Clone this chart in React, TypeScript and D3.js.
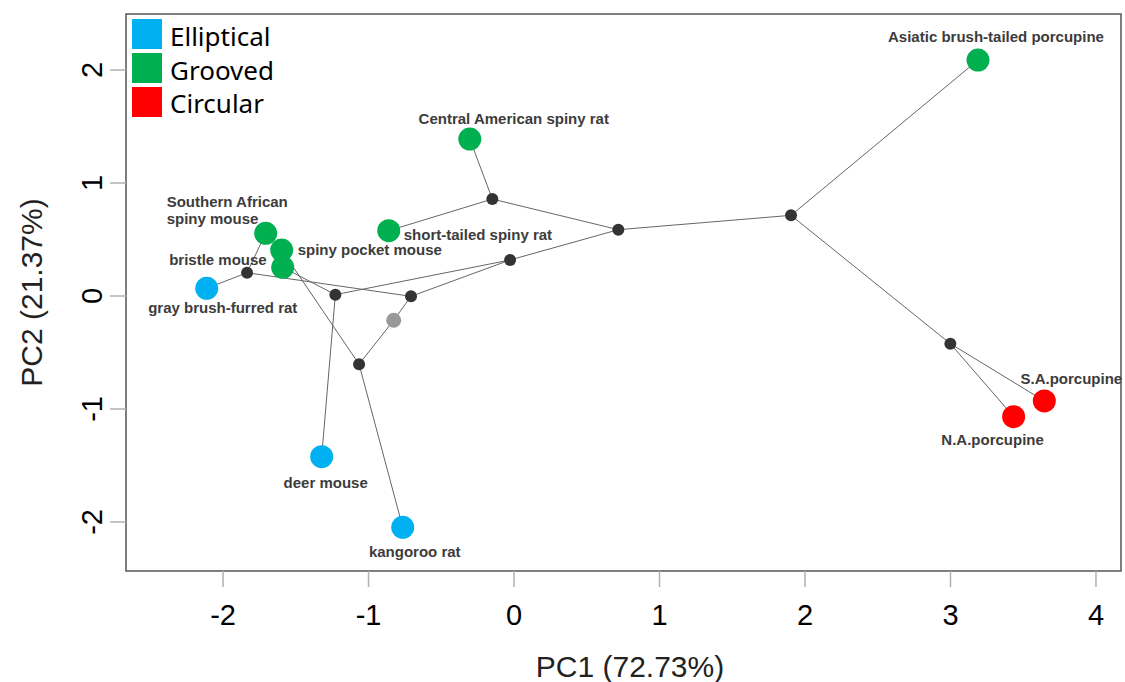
import React, { useEffect, useRef } from "react";
import * as d3 from "d3";

// Tips of the tree (species), PC1 / PC2 scores
const tipNames = [
  "Asiatic brush-tailed porcupine",
  "Central American spiny rat",
  "short-tailed spiny rat",
  "Southern African spiny mouse",
  "spiny pocket mouse",
  "bristle mouse",
  "gray brush-furred rat",
  "deer mouse",
  "kangoroo rat",
  "N.A.porcupine",
  "S.A.porcupine",
];
const tipPC1 = [3.189, -0.304, -0.861, -1.707, -1.597, -1.59, -2.112, -1.322, -0.765, 3.434, 3.645];
const tipPC2 = [2.088, 1.389, 0.578, 0.555, 0.407, 0.254, 0.068, -1.422, -2.047, -1.068, -0.929];
const tipGroup = [
  "Grooved", "Grooved", "Grooved", "Grooved", "Grooved", "Grooved",
  "Elliptical", "Elliptical", "Elliptical", "Circular", "Circular",
];

// Internal (ancestral) nodes
const nodeNames = ["n1", "n2", "n3", "root", "n4", "n5", "n6", "n7", "n8", "n9"];
const nodePC1 = [-1.835, -1.228, -0.708, -0.827, -1.065, -0.027, -0.149, 0.717, 1.904, 2.999];
const nodePC2 = [0.206, 0.012, -0.003, -0.215, -0.604, 0.319, 0.858, 0.587, 0.714, -0.422];

// Branches: [from, to]
const edges = [
  ["gray brush-furred rat", "n1"],
  ["Southern African spiny mouse", "n1"],
  ["n1", "n3"],
  ["bristle mouse", "n2"],
  ["deer mouse", "n2"],
  ["n2", "n5"],
  ["n3", "n5"],
  ["n3", "root"],
  ["root", "n4"],
  ["spiny pocket mouse", "n4"],
  ["kangoroo rat", "n4"],
  ["n5", "n7"],
  ["short-tailed spiny rat", "n6"],
  ["Central American spiny rat", "n6"],
  ["n6", "n7"],
  ["n7", "n8"],
  ["n8", "Asiatic brush-tailed porcupine"],
  ["n8", "n9"],
  ["n9", "N.A.porcupine"],
  ["n9", "S.A.porcupine"],
];

const groups = ["Elliptical", "Grooved", "Circular"];
const groupColors = ["#00b0f0", "#00b050", "#ff0000"];

const xTicks = [-2, -1, 0, 1, 2, 3, 4];
const yTicks = [-2, -1, 0, 1, 2];

// label placement relative to the point: [dx, dy, anchor, lines]
const labelLayout = {
  "Asiatic brush-tailed porcupine": [18, -18, "middle"],
  "Central American spiny rat": [44, -15, "middle"],
  "short-tailed spiny rat": [15, 9, "start"],
  "Southern African spiny mouse": [-99, -26, "start"],
  "spiny pocket mouse": [16, 5, "start"],
  "bristle mouse": [-16, -2, "end"],
  "gray brush-furred rat": [16, 25, "middle"],
  "deer mouse": [4, 31, "middle"],
  "kangoroo rat": [12, 30, "middle"],
  "N.A.porcupine": [-21, 28, "middle"],
  "S.A.porcupine": [27, -17, "middle"],
};

const App = () => {
  const ref = useRef<SVGSVGElement>(null);

  useEffect(() => {
    const svg = d3.select(ref.current);
    svg.selectAll("*").remove();

    const left = 126, right = 1121, top = 14, bottom = 571;

    const x = d3.scaleLinear().domain([-2.667, 4.172]).range([left, right]);
    const y = d3.scaleLinear().domain([-2.434, 2.496]).range([bottom, top]);

    // lookup of positions
    const pos = new Map<string, [number, number]>();
    tipNames.forEach((n, i) => pos.set(n, [tipPC1[i], tipPC2[i]]));
    nodeNames.forEach((n, i) => pos.set(n, [nodePC1[i], nodePC2[i]]));

    const color = d3.scaleOrdinal<string, string>().domain(groups).range(groupColors);

    // Frame
    svg.append("rect")
      .attr("x", left)
      .attr("y", top)
      .attr("width", right - left)
      .attr("height", bottom - top)
      .attr("fill", "none")
      .attr("stroke", "#555")
      .attr("stroke-width", 1.5);

    // X axis ticks + labels
    const xg = svg.append("g");
    xg.selectAll("line")
      .data(xTicks)
      .enter()
      .append("line")
      .attr("x1", d => x(d))
      .attr("x2", d => x(d))
      .attr("y1", bottom)
      .attr("y2", bottom + 16)
      .attr("stroke", "#b0b0b0")
      .attr("stroke-width", 1.5);
    xg.selectAll("text")
      .data(xTicks)
      .enter()
      .append("text")
      .attr("x", d => x(d))
      .attr("y", 625)
      .attr("text-anchor", "middle")
      .style("font-family", "'Liberation Sans', Arial, sans-serif")
      .style("font-size", "29px")
      .attr("fill", "#000")
      .text(d => d);

    // Y axis ticks + labels
    const yg = svg.append("g");
    yg.selectAll("line")
      .data(yTicks)
      .enter()
      .append("line")
      .attr("x1", left - 16)
      .attr("x2", left)
      .attr("y1", d => y(d))
      .attr("y2", d => y(d))
      .attr("stroke", "#b0b0b0")
      .attr("stroke-width", 1.5);
    yg.selectAll("text")
      .data(yTicks)
      .enter()
      .append("text")
      .attr("transform", d => `translate(102, ${y(d)}) rotate(-90)`)
      .attr("text-anchor", "middle")
      .style("font-family", "'Liberation Sans', Arial, sans-serif")
      .style("font-size", "29px")
      .attr("fill", "#000")
      .text(d => d);

    // Axis titles
    svg.append("text")
      .attr("x", 630)
      .attr("y", 677)
      .attr("text-anchor", "middle")
      .style("font-family", "'Liberation Sans', Arial, sans-serif")
      .style("font-size", "30px")
      .attr("fill", "#222")
      .text("PC1 (72.73%)");
    svg.append("text")
      .attr("transform", `translate(42, ${(top + bottom) / 2}) rotate(-90)`)
      .attr("text-anchor", "middle")
      .style("font-family", "'Liberation Sans', Arial, sans-serif")
      .style("font-size", "30px")
      .attr("fill", "#222")
      .text("PC2 (21.37%)");

    // Branches
    svg.append("g")
      .selectAll("line")
      .data(edges)
      .enter()
      .append("line")
      .attr("x1", d => x(pos.get(d[0])![0]))
      .attr("y1", d => y(pos.get(d[0])![1]))
      .attr("x2", d => x(pos.get(d[1])![0]))
      .attr("y2", d => y(pos.get(d[1])![1]))
      .attr("stroke", "#666")
      .attr("stroke-width", 1);

    // Internal nodes
    svg.append("g")
      .selectAll("circle")
      .data(nodeNames)
      .enter()
      .append("circle")
      .attr("cx", (d, i) => x(nodePC1[i]))
      .attr("cy", (d, i) => y(nodePC2[i]))
      .attr("r", d => (d === "root" ? 7.5 : 6))
      .attr("fill", d => (d === "root" ? "#999" : "#333"));

    // Tips
    svg.append("g")
      .selectAll("circle")
      .data(tipNames)
      .enter()
      .append("circle")
      .attr("cx", (d, i) => x(tipPC1[i]))
      .attr("cy", (d, i) => y(tipPC2[i]))
      .attr("r", 11.5)
      .attr("fill", (d, i) => color(tipGroup[i]));

    // Tip labels
    const lab = svg.append("g")
      .style("font-family", "'Liberation Sans', Arial, sans-serif")
      .style("font-size", "15px")
      .style("font-weight", "bold")
      .attr("fill", "#3c3c3c");
    tipNames.forEach((name, i) => {
      const [dx, dy, anchor] = labelLayout[name];
      const t = lab.append("text")
        .attr("x", x(tipPC1[i]) + (dx as number))
        .attr("y", y(tipPC2[i]) + (dy as number))
        .attr("text-anchor", anchor as string);
      if (name === "Southern African spiny mouse") {
        t.append("tspan").text("Southern African");
        t.append("tspan")
          .attr("x", x(tipPC1[i]) + (dx as number))
          .attr("dy", 17)
          .text("spiny mouse");
      } else {
        t.text(name);
      }
    });

    // Legend
    const leg = svg.append("g");
    groups.forEach((g, i) => {
      leg.append("rect")
        .attr("x", 132)
        .attr("y", 19 + i * 34)
        .attr("width", 30)
        .attr("height", 30)
        .attr("fill", color(g));
      leg.append("text")
        .attr("x", 170)
        .attr("y", 46 + i * 33.5)
        .style("font-family", "'Noto Sans', sans-serif")
        .style("font-size", "26px")
        .attr("fill", "#000")
        .text(g);
    });
  }, []);

  return (
    <svg
      ref={ref}
      width={1125}
      height={682}
      style={{ position: "absolute", left: 0, top: 0, background: "#fff" }}
    ></svg>
  );
};

export default App;
